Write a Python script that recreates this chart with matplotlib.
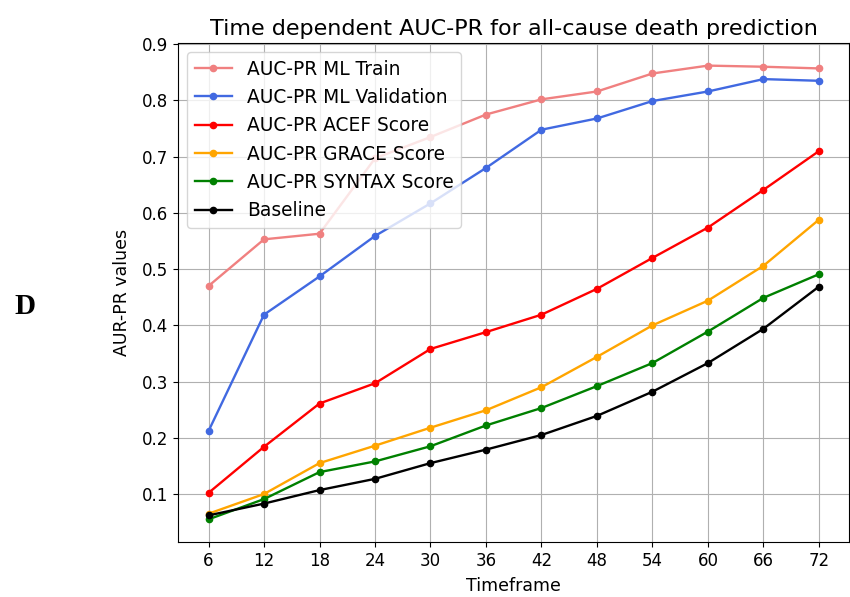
import numpy as np
import matplotlib.pyplot as plt

# === Data ===
months = [6, 12, 18, 24, 30, 36, 42, 48, 54, 60, 66, 72]
ml_train = [0.470, 0.553, 0.563, 0.697, 0.735, 0.775, 0.802, 0.816, 0.848, 0.862, 0.860, 0.857]
ml_valid = [0.212, 0.419, 0.487, 0.559, 0.617, 0.680, 0.748, 0.768, 0.799, 0.816, 0.838, 0.835]
acef = [0.102, 0.184, 0.261, 0.297, 0.358, 0.388, 0.419, 0.465, 0.520, 0.574, 0.641, 0.710]
grace = [0.065, 0.100, 0.155, 0.186, 0.218, 0.249, 0.290, 0.344, 0.400, 0.444, 0.506, 0.588]
syntax = [0.055, 0.091, 0.139, 0.158, 0.185, 0.222, 0.253, 0.292, 0.333, 0.389, 0.449, 0.491]
baseline = [0.062, 0.083, 0.107, 0.127, 0.155, 0.179, 0.205, 0.239, 0.282, 0.333, 0.394, 0.469]

# === Plot ===
fig = plt.figure(figsize=(8.5, 5.97), dpi=100)
ax = fig.add_axes([0.2094, 0.0921, 0.79, 0.836])

style = dict(marker='o', markersize=4.5, linewidth=1.7)
ax.plot(months, ml_train, color='lightcoral', label='AUC-PR ML Train', **style)
ax.plot(months, ml_valid, color='royalblue', label='AUC-PR ML Validation', **style)
ax.plot(months, acef, color='red', label='AUC-PR ACEF Score', **style)
ax.plot(months, grace, color='orange', label='AUC-PR GRACE Score', **style)
ax.plot(months, syntax, color='green', label='AUC-PR SYNTAX Score', **style)
ax.plot(months, baseline, color='black', label='Baseline', **style)

ax.set_xticks(months)
ax.tick_params(labelsize=12)
ax.set_title("Time dependent AUC-PR for all-cause death prediction", fontsize=16)
ax.set_xlabel("Timeframe", fontsize=12.5, labelpad=5)
ax.set_ylabel("AUR-PR values", fontsize=12.5, labelpad=8)
ax.grid(True)
ax.legend(loc='upper left', fontsize=13.4)

fig.text(0.029, 0.486, "D", fontsize=21, fontweight='bold', family='Liberation Serif',
         ha='center', va='center')

fig.savefig("out.png")
